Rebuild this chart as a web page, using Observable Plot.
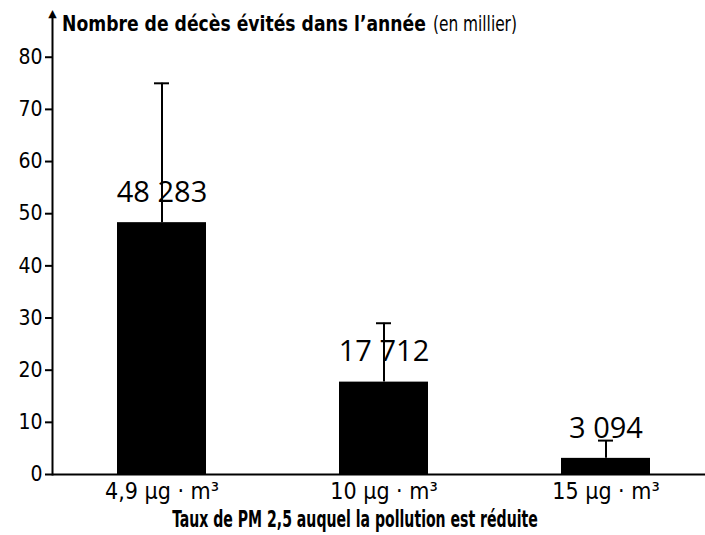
<!DOCTYPE html>
<html>
<head>
<meta charset="utf-8">
<script src="https://cdn.jsdelivr.net/npm/d3@7"></script>
<script src="https://cdn.jsdelivr.net/npm/@observablehq/plot@0.6"></script>
<style>
  body { margin: 0; background: white; }
  svg text.narrow, svg g[aria-label="y-axis tick label"] text, svg g[aria-label="x-axis tick label"] text { font-stretch: condensed; }
</style>
</head>
<body>
<div id="chart"></div>
<script>
const categories = ["4,9 µg · m³", "10 µg · m³", "15 µg · m³"];
const values = [48.283, 17.712, 3.094];
const upper = [75, 29, 6.5];
const valueLabels = ["48 283", "17 712", "3 094"];
const yTicks = [0, 10, 20, 30, 40, 50, 60, 70, 80];
const titleBold = "Nombre de décès évités dans l’année";
const titleRegular = "(en millier)";
const xTitle = "Taux de PM 2,5 auquel la pollution est réduite";

const data = categories.map((c, i) => ({cat: c, value: values[i], upper: upper[i], label: valueLabels[i]}));

const narrow = "'DejaVu Sans Condensed', 'DejaVu Sans', sans-serif";

const chart = Plot.plot({
  width: 705,
  height: 535,
  marginLeft: 52,
  marginRight: 0,
  marginTop: 15,
  marginBottom: 61,
  style: {fontFamily: narrow, fontSize: "22px", color: "black", background: "white"},
  x: {domain: categories, range: [52, 714], paddingInner: 0.6, paddingOuter: 0.29, label: null},
  y: {domain: [0, 88], label: null},
  marks: [
    Plot.barY(data, {x: "cat", y: "value", fill: "black"}),
    Plot.ruleX(data, {x: "cat", y1: "value", y2: "upper", stroke: "black", strokeWidth: 2}),
    Plot.tickY(data, {x: "cat", y: "upper", stroke: "black", strokeWidth: 2, insetLeft: 37, insetRight: 37}),
    Plot.text(data, {x: "cat", y: "value", text: "label", dy: -30, fontSize: 29, fontFamily: "'Open Sans', sans-serif", lineAnchor: "middle", fill: "black"}),
    Plot.ruleY([0], {stroke: "black", strokeWidth: 2}),
    Plot.axisY({ticks: yTicks, tickSize: 7, tickPadding: 3, fontSize: 21, strokeWidth: 2, label: null}),
    Plot.axisX({tickSize: 0, tickPadding: 8, fontSize: 23, label: null}),
    Plot.frame({anchor: "left", stroke: "black", strokeWidth: 2}),
    Plot.text(["▲"], {frameAnchor: "top-left", textAnchor: "middle", lineAnchor: "middle", fontSize: 11, fontFamily: "'DejaVu Sans', sans-serif", fill: "black", dy: -2})
  ]
});

document.getElementById("chart").appendChild(chart);
const svg = d3.select(chart);

// Add a text squeezed horizontally (condensed look) to a target width
function squeezed(str, x, y, size, weight, anchor, targetWidth) {
  const t = svg.append("text")
    .attr("class", "narrow")
    .attr("x", 0)
    .attr("y", 0)
    .attr("text-anchor", anchor)
    .attr("font-family", narrow)
    .attr("font-size", size)
    .attr("font-weight", weight)
    .attr("fill", "black")
    .text(str);
  const w = t.node().getComputedTextLength() || targetWidth;
  const s = Math.min(1, targetWidth / w);
  t.attr("transform", `translate(${x},${y}) scale(${s},1)`);
  return t;
}

squeezed(titleBold, 62, 31, 22, "bold", "start", 364);
squeezed(titleRegular, 433, 31, 22, "normal", "start", 84);
squeezed(xTitle, 355, 527, 23, "bold", "middle", 366);
</script>
</body>
</html>
